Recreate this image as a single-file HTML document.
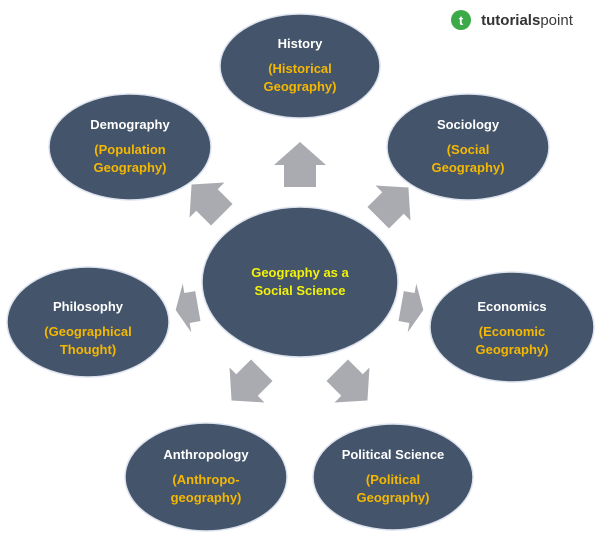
<!DOCTYPE html>
<html><head><style>
body{margin:0;background:#fff;width:600px;height:543px;overflow:hidden}
svg text{font-family:"Liberation Sans",sans-serif;font-weight:bold;font-size:13px;text-anchor:middle}
.t{fill:#fff}.s{fill:#f5b800}.c{fill:#f2f20a}
</style></head><body>
<svg width="600" height="543" viewBox="0 0 600 543">
<defs>
<polygon id="ar" points="0,-23 26,0 16,0 16,22 -16,22 -16,0 -26,0" fill="#a9abb0"/>
</defs>
<g fill="#44546a" stroke="#dde3ee" stroke-width="1.5">
<ellipse cx="300" cy="66" rx="80" ry="52"/>
<ellipse cx="468" cy="147" rx="81" ry="53"/>
<ellipse cx="130" cy="147" rx="81" ry="53"/>
<ellipse cx="300" cy="282" rx="98" ry="75"/>
<ellipse cx="512" cy="327" rx="82" ry="55"/>
<ellipse cx="88" cy="322" rx="81" ry="55"/>
<ellipse cx="206" cy="477" rx="81" ry="54"/>
<ellipse cx="393" cy="477" rx="80" ry="53"/>
</g>
<use href="#ar" transform="translate(300,165)"/>
<use href="#ar" transform="translate(207,200) rotate(-45) scale(0.95)"/>
<use href="#ar" transform="translate(393,203) rotate(45) scale(0.95)"/>
<use href="#ar" transform="translate(187,308) rotate(-100) scale(0.95,0.5)"/>
<use href="#ar" transform="translate(412,308) rotate(100) scale(0.95,0.5)"/>
<use href="#ar" transform="translate(247,385) rotate(-135) scale(0.95)"/>
<use href="#ar" transform="translate(352,385) rotate(135) scale(0.95)"/>
<text class="t" x="300" y="48">History</text>
<text class="s" x="300" y="73">(Historical</text>
<text class="s" x="300" y="91">Geography)</text>
<text class="t" x="468" y="129">Sociology</text>
<text class="s" x="468" y="154">(Social</text>
<text class="s" x="468" y="172">Geography)</text>
<text class="t" x="130" y="129">Demography</text>
<text class="s" x="130" y="154">(Population</text>
<text class="s" x="130" y="172">Geography)</text>
<text class="c" x="300" y="277">Geography as a</text>
<text class="c" x="300" y="295">Social Science</text>
<text class="t" x="512" y="311">Economics</text>
<text class="s" x="512" y="336">(Economic</text>
<text class="s" x="512" y="354">Geography)</text>
<text class="t" x="88" y="311">Philosophy</text>
<text class="s" x="88" y="336">(Geographical</text>
<text class="s" x="88" y="354">Thought)</text>
<text class="t" x="206" y="459">Anthropology</text>
<text class="s" x="206" y="484">(Anthropo-</text>
<text class="s" x="206" y="502">geography)</text>
<text class="t" x="393" y="459">Political Science</text>
<text class="s" x="393" y="484">(Political</text>
<text class="s" x="393" y="502">Geography)</text>
<circle cx="461" cy="20" r="10" fill="#3daa4a"/>
<text x="461" y="25" style="fill:#fff;font-size:13px">t</text>
<text x="527" y="25" style="fill:#3a3a3a;font-size:15px;font-weight:normal"><tspan style="font-weight:bold;fill:#333">tutorials</tspan>point</text>
</svg>
</body></html>
